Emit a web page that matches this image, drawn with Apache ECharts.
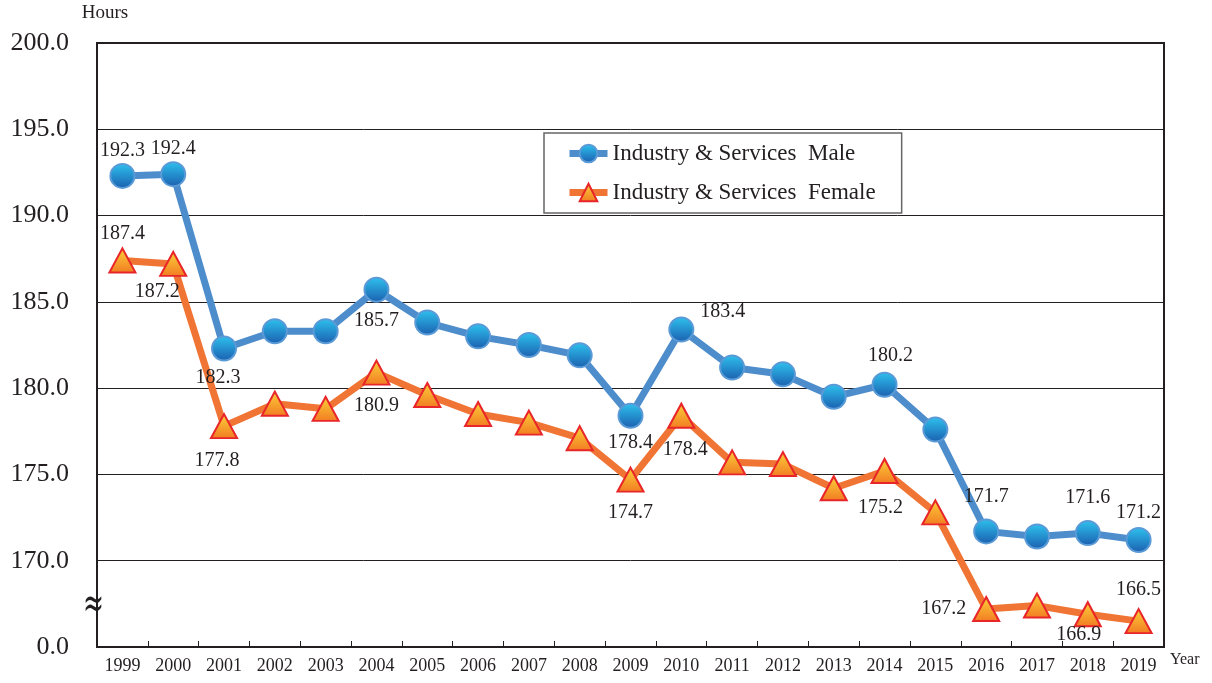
<!DOCTYPE html>
<html><head><meta charset="utf-8">
<script src="https://cdn.jsdelivr.net/npm/echarts@6/dist/echarts.min.js"></script>
<style>html,body{margin:0;padding:0;background:#fff}#c{width:1212px;height:683px}</style>
</head><body><div id="c"></div>
<script>
const years = ['1999','2000','2001','2002','2003','2004','2005','2006','2007','2008','2009','2010','2011','2012','2013','2014','2015','2016','2017','2018','2019'];
const maleValues = [192.3,192.4,182.3,183.3,183.3,185.7,183.8,183.0,182.5,181.9,178.4,183.4,181.2,180.8,179.5,180.2,177.6,171.7,171.4,171.6,171.2];
const femaleValues = [187.4,187.2,177.8,179.1,178.8,180.9,179.6,178.5,178.0,177.1,174.7,178.4,175.7,175.6,174.2,175.2,172.8,167.2,167.4,166.9,166.5];
const yTicks = [165,170,175,180,185,190,195,200];
const maleName = 'Industry & Services  Male';
const femaleName = 'Industry & Services  Female';

// label placement (style config, index -> label options)
const maleLabelCfg = {
  0:{position:'top',distance:2}, 1:{position:'top',distance:2}, 2:{position:'bottom',distance:6,offset:[-6,0]},
  5:{position:'bottom',distance:8}, 10:{position:'bottom',distance:4},
  11:{position:'right',distance:6,offset:[0,-18]}, 15:{position:'top',distance:6,offset:[6,0]},
  17:{position:'top',distance:12}, 19:{position:'top',distance:12}, 20:{position:'top',distance:4}
};
const femaleLabelCfg = {
  0:{position:'top',distance:4}, 1:{position:'bottom',distance:5,offset:[-16,0]},
  2:{position:'bottom',distance:12,offset:[-7,0]}, 5:{position:'bottom',distance:10},
  10:{position:'bottom',distance:10}, 11:{position:'bottom',distance:11,offset:[4,0]},
  15:{position:'bottom',distance:14,offset:[-4,0]}, 17:{position:'left',distance:6},
  19:{position:'bottom',distance:-2,offset:[-9,0]}, 20:{position:'top',distance:8}
};
function build(vals, cfg){
  return vals.map((v,i)=>{
    const c = cfg[i];
    if(!c) return {value:v};
    return {value:v,label:Object.assign({show:true},c)};
  });
}
const labelFont = {fontFamily:'Liberation Serif',fontSize:20,color:'#231f20'};
const maleMarker = new echarts.graphic.LinearGradient(0,0,0,1,[{offset:0,color:'#2ec3ef'},{offset:1,color:'#1b5eae'}]);
const femaleMarker = new echarts.graphic.LinearGradient(0,0,0,1,[{offset:0,color:'#fbd23a'},{offset:1,color:'#f27a22'}]);
const chart = echarts.init(document.getElementById('c'),null,{renderer:'canvas'});
chart.setOption({
  animation:false,
  backgroundColor:'#fff',
  textStyle:{fontFamily:'Liberation Serif'},
  grid:{left:97,right:48,top:43,bottom:36,show:true,borderColor:'#231f20',borderWidth:2,backgroundColor:'transparent'},
  legend:{
    orient:'vertical',left:544,top:133,padding:[9,26,9,22],itemGap:16,
    itemWidth:38,itemHeight:22,
    backgroundColor:'#fff',borderColor:'#666',borderWidth:1.5,
    textStyle:{fontFamily:'Liberation Serif',fontSize:23,color:'#231f20'},
    data:[
      {name:maleName,lineStyle:{width:7,color:'#4d8dcc'}},
      {name:femaleName,lineStyle:{width:7,color:'#f07534'}}
    ]
  },
  xAxis:{
    type:'category',data:years,boundaryGap:true,
    name:'Year',nameLocation:'end',nameGap:6,
    nameTextStyle:{fontFamily:'Liberation Serif',fontSize:16,color:'#231f20',verticalAlign:'top',padding:[5,0,0,0]},
    axisLine:{lineStyle:{color:'#231f20',width:2}},
    axisTick:{show:true,inside:true,length:6,alignWithLabel:false,lineStyle:{color:'#231f20',width:1}},
    axisLabel:{fontFamily:'Liberation Serif',fontSize:18,color:'#231f20',margin:10,interval:0}
  },
  yAxis:{
    type:'value',min:165,max:200,interval:5,
    name:'Hours',nameLocation:'end',nameGap:20,
    nameTextStyle:{fontFamily:'Liberation Serif',fontSize:19,color:'#231f20',align:'center',padding:[0,0,0,16]},
    axisLine:{show:true,lineStyle:{color:'#231f20',width:2}},
    axisTick:{show:false},
    axisLabel:{fontFamily:'Liberation Serif',fontSize:26,color:'#231f20',margin:28,
      formatter:v=> (v===yTicks[0]?'0.0':v.toFixed(1))},
    splitLine:{show:true,lineStyle:{color:'#231f20',width:1}}
  },
  series:[
    {
      name:maleName,type:'line',data:build(maleValues,maleLabelCfg),
      symbol:'circle',symbolSize:24,
      lineStyle:{color:'#4d8dcc',width:7},
      itemStyle:{color:maleMarker,borderColor:'#5a9ad6',borderWidth:2},
      label:Object.assign({show:false},labelFont),
      z:4
    },
    {
      name:femaleName,type:'line',data:build(femaleValues,femaleLabelCfg),
      symbol:'triangle',symbolSize:[26,24],
      lineStyle:{color:'#f07534',width:7},
      itemStyle:{color:femaleMarker,borderColor:'#e8262a',borderWidth:2},
      label:Object.assign({show:false},labelFont),
      z:3
    }
  ],
  graphic:[
    {type:'text',x:83,y:585,z:100,scaleY:1.7,style:{text:'≈',fontFamily:'DejaVu Serif',fontSize:25,fill:'#231f20'}}
  ]
});
</script></body></html>
